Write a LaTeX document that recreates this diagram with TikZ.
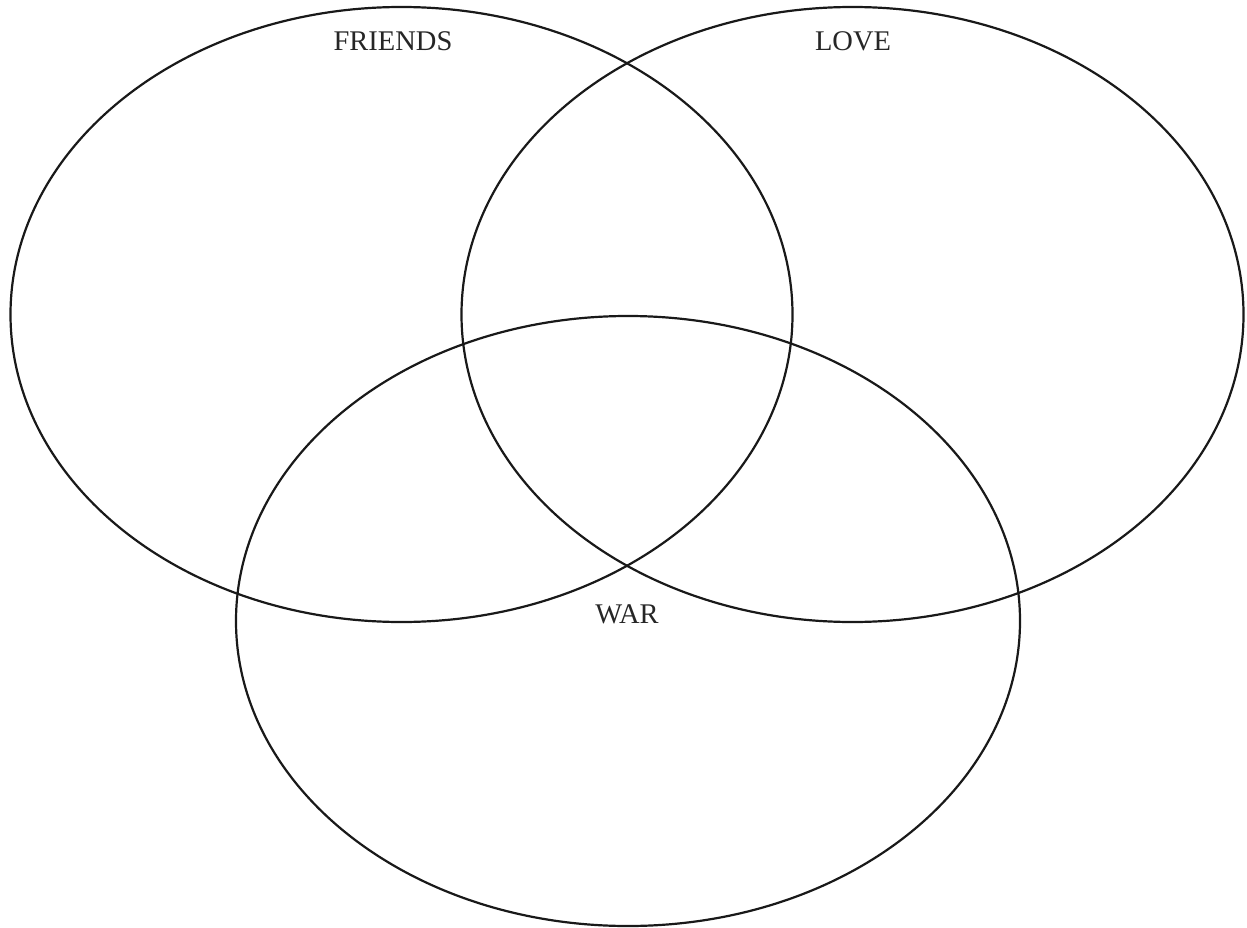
\documentclass[tikz,border=0pt]{standalone}
\usepackage{fontspec}
\setmainfont{Liberation Serif}
\usetikzlibrary{shapes.geometric}
\begin{document}
\begin{tikzpicture}[x=1pt,y=-1pt,
  venn/.style={draw, ellipse, line width=2.2pt, inner sep=0pt, color=black!90},
  lbl/.style={anchor=base, inner sep=0pt, font=\fontsize{28.5}{30}\selectfont, text=black!85}]
\useasboundingbox (0,0) rectangle (1247,928);
\node[venn, minimum width=782pt, minimum height=615pt] (friends) at (401.5,314.5) {};
\node[venn, minimum width=782pt, minimum height=615pt] (love) at (852.5,314.5) {};
\node[venn, minimum width=784pt, minimum height=610pt] (war) at (628,621) {};
\node[lbl] (tf) at (393,51) {FRIENDS};
\node[lbl] (tl) at (853,51) {LOVE};
\node[lbl] (tw) at (627,623) {WAR};
\end{tikzpicture}
\end{document}
